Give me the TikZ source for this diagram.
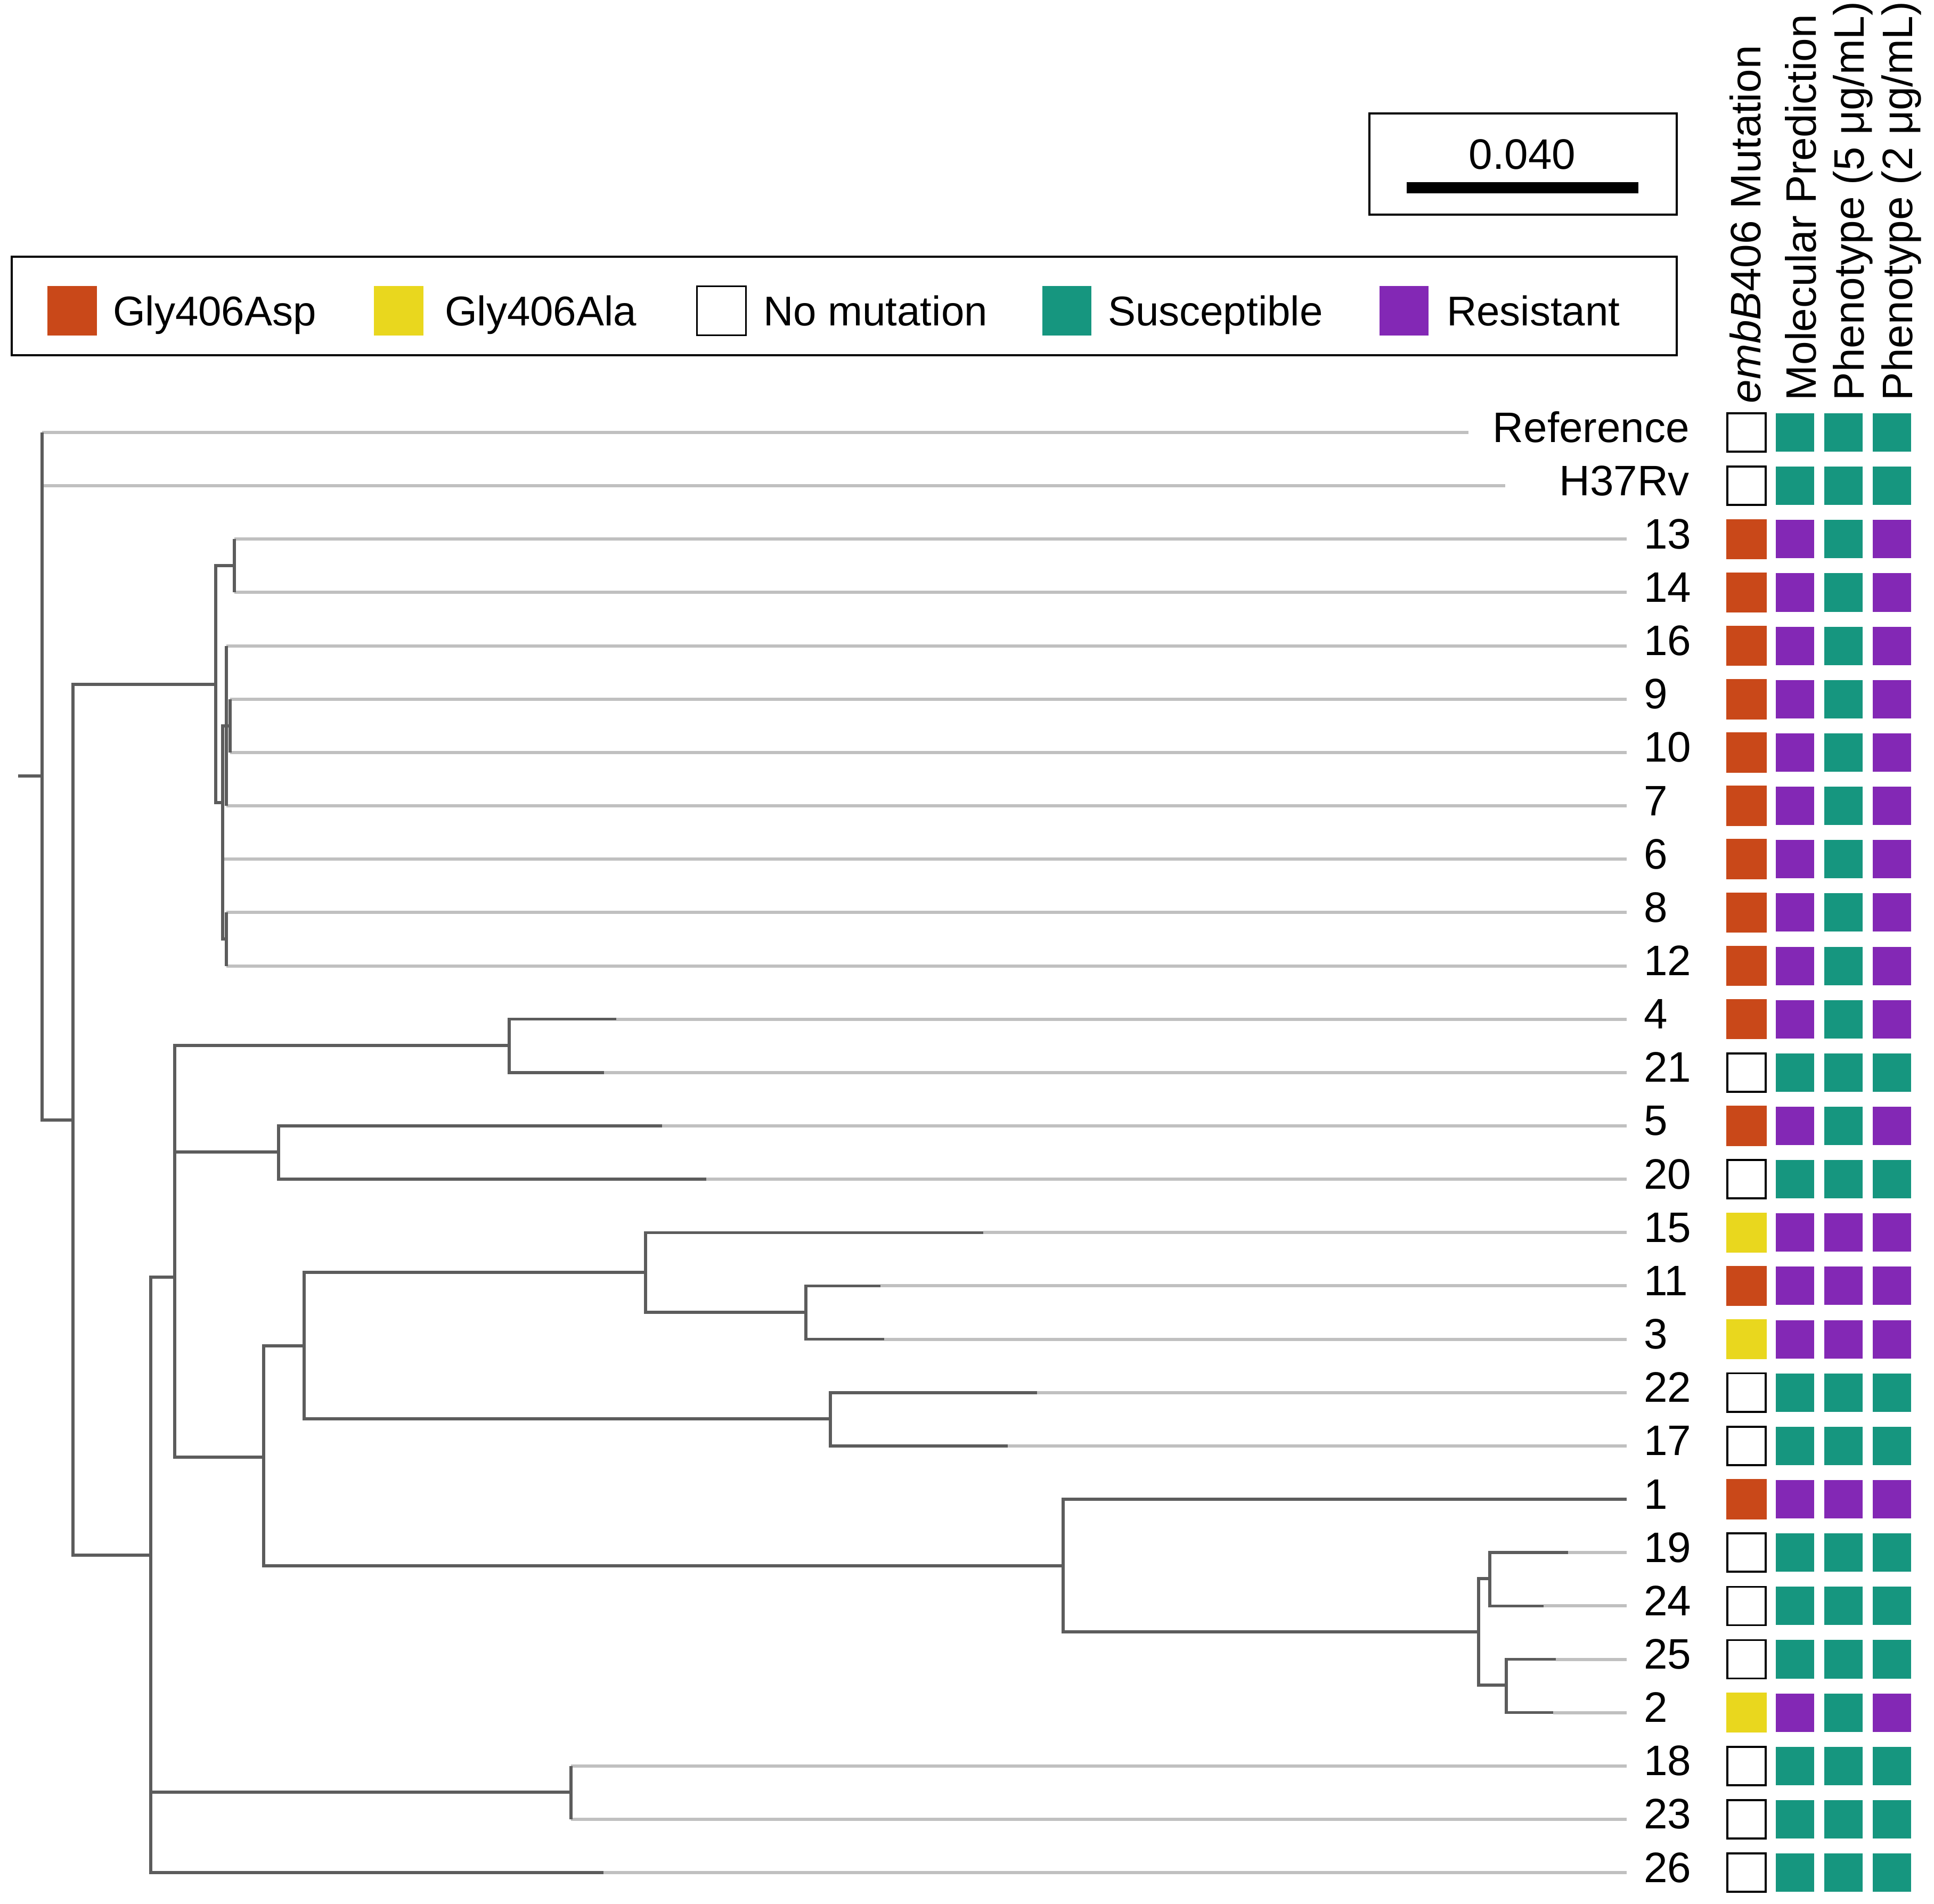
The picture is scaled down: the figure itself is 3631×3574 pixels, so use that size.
\documentclass[tikz,border=0pt]{standalone}
\usepackage{fontspec}
\setmainfont{Liberation Sans}
\definecolor{gO}{RGB}{201,72,25}
\definecolor{gY}{RGB}{233,215,30}
\definecolor{gS}{RGB}{22,150,127}
\definecolor{gR}{RGB}{131,40,181}
\definecolor{treedark}{RGB}{92,92,92}
\definecolor{treelight}{RGB}{192,192,192}
\newcommand\labfont{\fontsize{22.76}{27}\selectfont}
\newcommand\keyfont{\fontsize{22.2}{27}\selectfont}
\begin{document}
\begin{tikzpicture}[x=0.01cm,y=-0.01cm,
  br/.style={draw=treedark, line width=0.055cm},
  ext/.style={draw=treelight, line width=0.06cm},
  lab/.style={inner sep=0pt, outer sep=0pt, font=\labfont},
  keytxt/.style={inner sep=0pt, outer sep=0pt, font=\keyfont, anchor=base west},
  cell/.style={minimum size=0.72cm, inner sep=0pt, outer sep=0pt},
  keybox/.style={minimum size=0.92cm, inner sep=0pt, outer sep=0pt},
  frame/.style={draw=black, line width=0.04cm, inner sep=0pt, fill=none}]
\fill[white] (0,0) rectangle (3631,3574);
\useasboundingbox (0,0) rectangle (3631,3574);

% ---- scale box
\node[frame, minimum width=5.77cm, minimum height=1.9cm] (scalebox) at (2859.5,308) {};
\node[lab, anchor=base] (scaletxt) at (2858,317) {0.040};
\node[fill=black, minimum width=4.35cm, minimum height=0.21cm, inner sep=0pt] (scalebar) at (2858.5,352.5) {};

% ---- legend
\node[frame, minimum width=31.24cm, minimum height=1.85cm] (legend) at (1585,574.5) {};
\node[keybox, fill=gO] (k1) at (135.5,583.5) {};
\node[keytxt] (kt1) at (212,611) {Gly406Asp};
\node[keybox, fill=gY] (k2) at (748.5,583.5) {};
\node[keytxt] (kt2) at (835,611) {Gly406Ala};
\node[keybox, fill=white, draw=black, line width=0.035cm] (k3) at (1354.5,583.5) {};
\node[keytxt] (kt3) at (1433,611) {No mutation};
\node[keybox, fill=gS] (k4) at (2003,583.5) {};
\node[keytxt] (kt4) at (2080,611) {Susceptible};
\node[keybox, fill=gR] (k5) at (2635.5,583.5) {};
\node[keytxt] (kt5) at (2716,611) {Resistant};

% ---- column headers
\node[lab, rotate=90, anchor=base west] (h1) at (3305,757) {\textit{embB}406 Mutation};
\node[lab, rotate=90, anchor=base west] (h2) at (3409,752) {Molecular Prediction};
\node[lab, rotate=90, anchor=base west] (h3) at (3499,752) {Phenotype (5 μg/mL)};
\node[lab, rotate=90, anchor=base west] (h4) at (3590,752) {Phenotype (2 μg/mL)};

% ---- internal tree nodes
\coordinate (stub) at (34,1457);
\coordinate (root) at (79,1457);
\coordinate (A) at (137,2103);
\coordinate (B) at (405,1285);
\coordinate (B1) at (440,1062);
\coordinate (D) at (418,1507);
\coordinate (E) at (425,1363);
\coordinate (G) at (432,1363);
\coordinate (F) at (425,1763);
\coordinate (C) at (283,2920);
\coordinate (H) at (328,2398);
\coordinate (K) at (956,1963);
\coordinate (L) at (523,2163);
\coordinate (M) at (495,2736);
\coordinate (N) at (571,2527);
\coordinate (Q) at (1212,2389);
\coordinate (S) at (1513,2464);
\coordinate (R) at (1559,2664);
\coordinate (P) at (1996,2940);
\coordinate (T) at (2776,3064);
\coordinate (U) at (2797,2964);
\coordinate (V) at (2828,3164);
\coordinate (I) at (1072,3365);

% ---- leaves: index/name/parent/dark end/extension end
\def\leaflist{0/Ref/root/79/2757, 1/H37/root/79/2826, 2/13/B1/440/3054, 3/14/B1/440/3054,
 4/16/E/425/3054, 5/9/G/432/3054, 6/10/G/432/3054, 7/7/E/425/3054, 8/6/D/418/3054,
 9/8/F/425/3054, 10/12/F/425/3054, 11/4/K/1157/3054, 12/21/K/1134/3054, 13/5/L/1243/3054,
 14/20/L/1326/3054, 15/15/Q/1846/3054, 16/11/S/1653/3054, 17/3/S/1660/3054, 18/22/R/1947/3054,
 19/17/R/1892/3054, 20/1/P/3054/3054, 21/19/U/2944/3054, 22/24/U/2898/3054, 23/25/V/2921/3054,
 24/2/V/2916/3054, 25/18/I/1072/3054, 26/23/I/1072/3054, 27/26/C/1133/3054}

\foreach \i/\nm/\pa/\dx/\ex in \leaflist {
  \pgfmathsetmacro{\yy}{812+100.15*\i}
  \coordinate (e-\nm) at (\dx,\yy);
  \coordinate (x-\nm) at (\ex,\yy);
  \draw[ext] (e-\nm) -- (x-\nm);
}

% internal branches
\draw[br] (stub) -- (root);
\foreach \p/\c in {root/A, A/B, A/C, B/B1, B/D, D/E, E/G, D/F, C/H, C/I, H/K, H/L, H/M,
                   M/N, M/P, N/Q, N/R, Q/S, P/T, T/U, T/V}
  \draw[br] (\p) |- (\c);

% leaf branches
\foreach \i/\nm/\pa/\dx/\ex in \leaflist
  \draw[br] (\pa) |- (e-\nm);

% ---- leaf labels
\node[lab, anchor=base east] (t-Ref) at (3172,830) {Reference};
\node[lab, anchor=base east] (t-H37) at (3172,930) {H37Rv};
\foreach \i/\nm in {2/13,3/14,4/16,5/9,6/10,7/7,8/6,9/8,10/12,11/4,12/21,13/5,14/20,15/15,
   16/11,17/3,18/22,19/17,20/1,21/19,22/24,23/25,24/2,25/18,26/23,27/26} {
  \pgfmathsetmacro{\yy}{812+100.15*\i+18}
  \node[lab, anchor=base west] (t-\nm) at (3086,\yy) {\nm};
}

% ---- squares: index/name/fill1/draw1/fill2/fill3/fill4
\foreach \i/\nm/\fa/\da/\fb/\fc/\fd in {
 0/Ref/white/black/gS/gS/gS, 1/H37/white/black/gS/gS/gS,
 2/13/gO/gO/gR/gS/gR, 3/14/gO/gO/gR/gS/gR, 4/16/gO/gO/gR/gS/gR, 5/9/gO/gO/gR/gS/gR,
 6/10/gO/gO/gR/gS/gR, 7/7/gO/gO/gR/gS/gR, 8/6/gO/gO/gR/gS/gR, 9/8/gO/gO/gR/gS/gR,
 10/12/gO/gO/gR/gS/gR, 11/4/gO/gO/gR/gS/gR, 12/21/white/black/gS/gS/gS,
 13/5/gO/gO/gR/gS/gR, 14/20/white/black/gS/gS/gS, 15/15/gY/gY/gR/gR/gR,
 16/11/gO/gO/gR/gR/gR, 17/3/gY/gY/gR/gR/gR, 18/22/white/black/gS/gS/gS,
 19/17/white/black/gS/gS/gS, 20/1/gO/gO/gR/gR/gR, 21/19/white/black/gS/gS/gS,
 22/24/white/black/gS/gS/gS, 23/25/white/black/gS/gS/gS, 24/2/gY/gY/gR/gS/gR,
 25/18/white/black/gS/gS/gS, 26/23/white/black/gS/gS/gS, 27/26/white/black/gS/gS/gS} {
  \pgfmathsetmacro{\yy}{812+100.15*\i}
  \node[cell, fill=\fa, draw=\da, line width=0.035cm] (m-\nm) at (3279,\yy) {};
  \node[cell, fill=\fb] (p-\nm) at (3370,\yy) {};
  \node[cell, fill=\fc] (f-\nm) at (3461,\yy) {};
  \node[cell, fill=\fd] (g-\nm) at (3552,\yy) {};
}
\end{tikzpicture}
\end{document}
